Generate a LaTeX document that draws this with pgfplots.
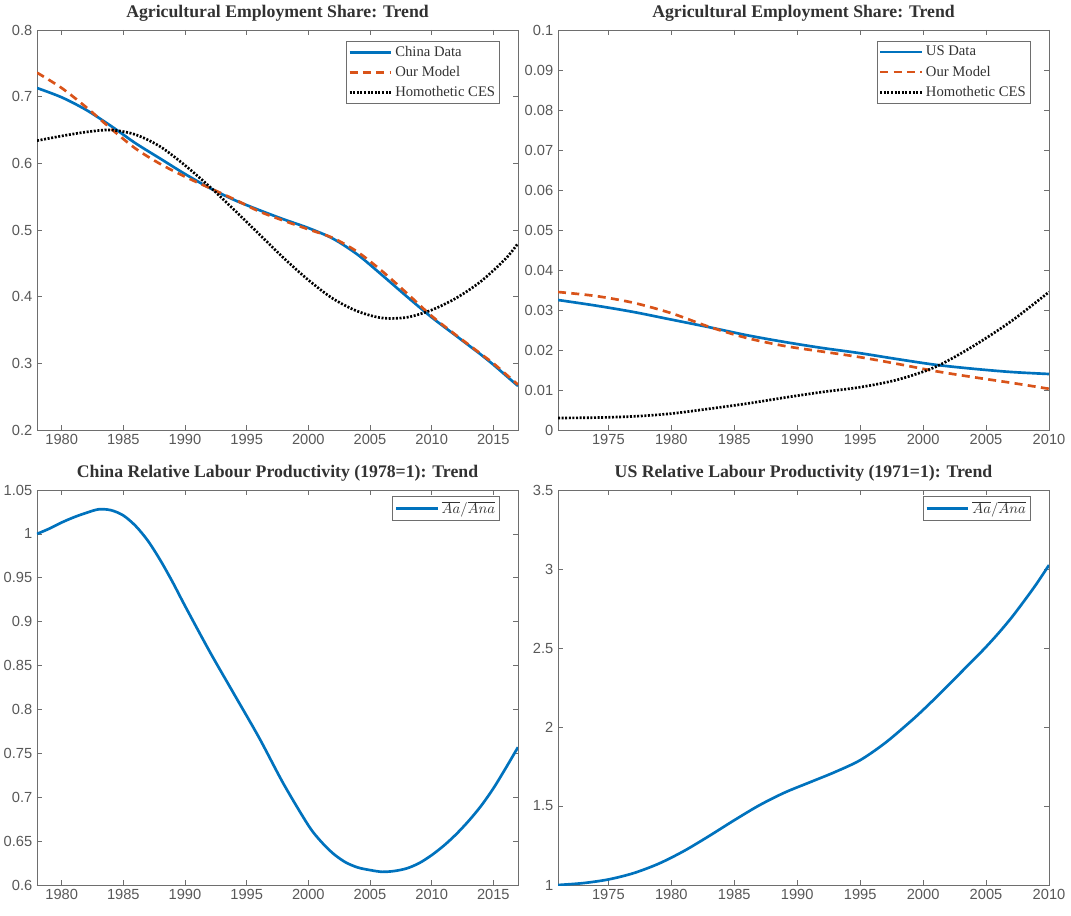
\documentclass[border=0pt]{standalone}
\usepackage{pgfplots}
\pgfplotsset{compat=1.18}
\usepackage{fontspec}
\setmainfont{Liberation Serif}
\setsansfont{Liberation Sans}
\definecolor{mblue}{RGB}{0,114,189}
\definecolor{morange}{RGB}{217,83,25}
\definecolor{axgray}{RGB}{110,110,110}
\definecolor{titlegray}{RGB}{50,50,50}
\pgfplotsset{
  mstyle/.style={
    scale only axis,
    axis line style={axgray, line width=0.6pt},
    every tick/.style={axgray, line width=0.5pt},
    major tick length=4pt,
    tick label style={font=\sffamily\fontsize{11}{12}\selectfont, text=axgray!80!black},
    /pgf/number format/assume math mode=true,
    /pgf/number format/set thousands separator={},
    title style={font=\bfseries\fontsize{13.3}{15}\selectfont, text=titlegray, yshift=-3pt},
    legend style={font=\fontsize{11}{13}\selectfont, draw=axgray, line width=0.6pt, anchor=north east, at={(0.963,0.972)}, inner sep=1.5pt, row sep=2pt, text=titlegray},
    legend cell align=left,
    legend image code/.code={\draw[#1, line width=2pt] (0cm,0cm) -- (1.1cm,0cm);},
  },
  dline/.style={mblue, line width=2pt, smooth},
  mline/.style={morange, line width=2pt, dash pattern=on 6pt off 4pt, smooth},
  hline/.style={black, line width=2pt, dash pattern=on 1.5pt off 1.2pt, smooth},
}
\begin{document}
\begin{tikzpicture}
\useasboundingbox (0pt,0pt) rectangle (803.25pt,686.25pt);
% top-left
\begin{axis}[mstyle, at={(27.75pt,363.75pt)}, anchor=south west, width=360.75pt, height=300pt,
  xmin=1978, xmax=2017, ymin=0.2, ymax=0.8,
  xtick={1980,1985,...,2015}, ytick={0.2,0.3,...,0.8},
  yticklabel style={/pgf/number format/fixed, /pgf/number format/precision=1},
  title={Agricultural Employment Share: Trend}]
\addplot[dline] coordinates {(1978,0.713) (1980,0.699) (1982,0.680) (1984,0.656) (1986,0.630) (1988,0.607) (1990,0.584) (1992,0.563) (1994,0.545) (1996,0.530) (1998,0.516) (2000,0.503) (2002,0.487) (2004,0.463) (2006,0.432) (2008,0.400) (2010,0.369) (2012,0.341) (2013,0.327) (2014,0.313) (2015,0.298) (2016,0.282) (2017,0.266)};
\addlegendentry{China Data}
\addplot[mline] coordinates {(1978,0.736) (1980,0.713) (1982,0.684) (1984,0.652) (1986,0.622) (1988,0.599) (1990,0.580) (1992,0.563) (1994,0.546) (1996,0.528) (1998,0.514) (2000,0.501) (2002,0.488) (2004,0.467) (2006,0.438) (2008,0.405) (2010,0.371) (2012,0.342) (2013,0.328) (2014,0.314) (2015,0.300) (2016,0.284) (2017,0.268)};
\addlegendentry{Our Model}
\addplot[hline] coordinates {(1978,0.634) (1980,0.641) (1982,0.647) (1984,0.650) (1986,0.643) (1988,0.625) (1990,0.597) (1992,0.565) (1994,0.530) (1996,0.494) (1998,0.458) (2000,0.425) (2002,0.397) (2004,0.378) (2006,0.368) (2008,0.369) (2010,0.380) (2012,0.398) (2014,0.423) (2016,0.457) (2017,0.480)};
\addlegendentry{Homothetic CES}
\end{axis}
% top-right
\begin{axis}[mstyle, at={(418.5pt,363.75pt)}, anchor=south west, width=368.25pt, height=300pt,
  xmin=1971, xmax=2010, ymin=0, ymax=0.1,
  xtick={1975,1980,...,2010}, ytick={0,0.01,...,0.1},
  yticklabel style={/pgf/number format/fixed, /pgf/number format/precision=2},
  title={Agricultural Employment Share: Trend}]
\addplot[dline] coordinates {(1971,0.0325) (1974,0.0311) (1977,0.0295) (1980,0.0276) (1983,0.0257) (1986,0.0237) (1989,0.0220) (1992,0.0205) (1995,0.0192) (1998,0.0177) (2001,0.0163) (2004,0.0153) (2007,0.0145) (2010,0.0140)};
\addlegendentry{US Data}
\addplot[mline] coordinates {(1971,0.0345) (1974,0.0335) (1977,0.0318) (1980,0.0292) (1983,0.0258) (1986,0.0230) (1989,0.0210) (1992,0.0196) (1995,0.0182) (1998,0.0165) (2001,0.0147) (2004,0.0132) (2007,0.0118) (2010,0.0103)};
\addlegendentry{Our Model}
\addplot[hline] coordinates {(1971,0.0030) (1974,0.0031) (1977,0.0034) (1980,0.0041) (1983,0.0053) (1986,0.0066) (1989,0.0081) (1992,0.0095) (1995,0.0107) (1998,0.0126) (2001,0.0158) (2004,0.0210) (2007,0.0272) (2010,0.0345)};
\addlegendentry{Homothetic CES}
\end{axis}
% bottom-left
\begin{axis}[mstyle, at={(27.75pt,22.5pt)}, anchor=south west, width=360.75pt, height=296.25pt,
  xmin=1978, xmax=2017, ymin=0.6, ymax=1.05,
  xtick={1980,1985,...,2015}, ytick={0.6,0.65,...,1.05},
  yticklabel style={/pgf/number format/fixed, /pgf/number format/precision=2},
  title={China Relative Labour Productivity (1978=1): Trend},
  legend style={at={(0.963,0.985)}}]
\addplot[dline] coordinates {(1978,1.000) (1979,1.006) (1980,1.013) (1981,1.019) (1982,1.024) (1983,1.028) (1984,1.027) (1985,1.021) (1986,1.009) (1987,0.992) (1988,0.970) (1989,0.945) (1990,0.918) (1992,0.866) (1994,0.817) (1996,0.768) (1998,0.715) (2000,0.668) (2001,0.650) (2002,0.636) (2003,0.626) (2004,0.620) (2005,0.617) (2006,0.615) (2007,0.616) (2008,0.619) (2009,0.625) (2010,0.634) (2011,0.645) (2012,0.658) (2013,0.673) (2014,0.690) (2015,0.710) (2016,0.733) (2017,0.757)};
\addlegendentry{$\overline{Aa}/\overline{Ana}$}
\end{axis}
% bottom-right
\begin{axis}[mstyle, at={(418.5pt,22.5pt)}, anchor=south west, width=368.25pt, height=296.25pt,
  xmin=1971, xmax=2010, ymin=1, ymax=3.5,
  xtick={1975,1980,...,2010}, ytick={1,1.5,...,3.5},
  title={US Relative Labour Productivity (1971=1): Trend},
  legend style={at={(0.963,0.985)}}]
\addplot[dline] coordinates {(1971,1.000) (1973,1.012) (1975,1.035) (1977,1.075) (1979,1.135) (1981,1.215) (1983,1.310) (1985,1.410) (1987,1.505) (1989,1.585) (1991,1.650) (1993,1.715) (1995,1.790) (1997,1.900) (1999,2.035) (2000,2.108) (2001,2.185) (2002,2.264) (2003,2.345) (2004,2.425) (2005,2.507) (2006,2.595) (2007,2.690) (2008,2.795) (2009,2.905) (2010,3.025)};
\addlegendentry{$\overline{Aa}/\overline{Ana}$}
\end{axis}
\end{tikzpicture}
\end{document}
